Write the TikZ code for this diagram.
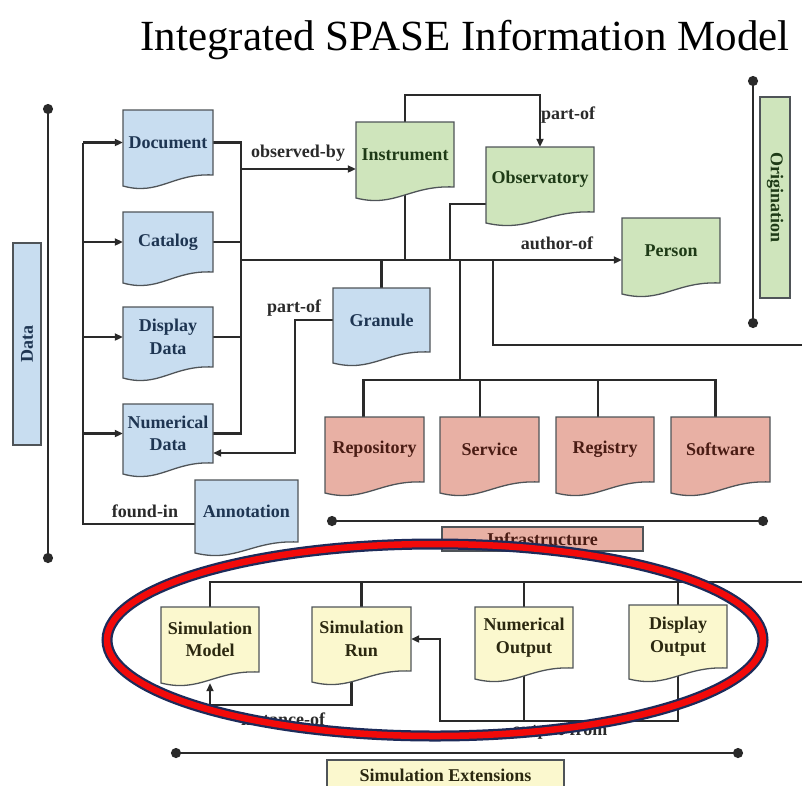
\documentclass[tikz,border=0pt]{standalone}
\usepackage{fontspec}
\setmainfont{Liberation Serif}
\usetikzlibrary{arrows.meta,positioning}

\definecolor{bluefill}{HTML}{C8DDF0}
\definecolor{bluetxt}{HTML}{1E3552}
\definecolor{greenfill}{HTML}{CFE5BC}
\definecolor{greentxt}{HTML}{1E3A16}
\definecolor{redfill}{HTML}{E8B0A4}
\definecolor{redtxt}{HTML}{4A1C14}
\definecolor{yellowfill}{HTML}{FBF8CE}
\definecolor{yellowtxt}{HTML}{2B2810}
\definecolor{boxgray}{HTML}{4F5458}
\definecolor{linegray}{HTML}{2A2A2A}
\definecolor{rimnavy}{HTML}{1C2B5A}
\definecolor{rimred}{HTML}{F20A0A}

\pgfdeclarelayer{bg}
\pgfsetlayers{bg,main}

\newcommand{\boxfont}{\fontsize{18pt}{22.5pt}\selectfont\bfseries}

\tikzset{
  link/.style={draw=linegray, line width=2.3pt},
  arrow/.style={link, -{Triangle[length=8pt, width=7pt]}},
  dotline/.style={link, {Circle[length=10pt]}-{Circle[length=10pt]}},
  boxtext/.style={font=\boxfont, align=center, inner sep=0pt},
  tag/.style={font=\boxfont, text=linegray},
  bar/.style={draw=boxgray, line width=1.3pt, font=\boxfont, inner sep=0pt},
  title/.style={font=\fontsize{43pt}{46pt}\selectfont},
  blue doc/.style={draw=boxgray, fill=bluefill, line width=1.3pt},
  blue txt/.style={text=bluetxt},
  green doc/.style={draw=boxgray, fill=greenfill, line width=1.3pt},
  green txt/.style={text=greentxt},
  red doc/.style={draw=boxgray, fill=redfill, line width=1.3pt},
  red txt/.style={text=redtxt},
  yellow doc/.style={draw=boxgray, fill=yellowfill, line width=1.3pt},
  yellow txt/.style={text=yellowtxt},
}

% document shape: name, colour, left, top, width, height, text
\newcommand{\docbox}[7]{%
  \filldraw[#2 doc] (#3,#4) -- ({#3+#5},#4) -- ({#3+#5},{#4+#6})
    .. controls ({#3+0.55*#5},{#4+#6-2}) and ({#3+0.4*#5},{#4+#6+21}) .. (#3,{#4+#6+11}) -- cycle;
  \node[boxtext, #2 txt, minimum width=#5pt, minimum height=#6pt] (#1) at ({#3+#5/2},{#4+#6/2}) {#7};
}

\begin{document}
\begin{tikzpicture}[x=1pt, y=-1pt]
  \useasboundingbox (0,0) rectangle (802,785);

  % Title
  \node[title, anchor=base] (ttl) at (465,50) {Integrated SPASE Information Model};

  % Data
  \node[bar, fill=bluefill, text=bluetxt, minimum width=202pt, minimum height=28pt, rotate=90] (data) at (27,344) {Data};
  \coordinate (dtop) at (48,104);
  \coordinate (dbot) at (48,563);
  \draw[dotline] (dtop) -- (dbot);

  \docbox{doc}{blue}{123}{110}{90}{65}{Document}
  \docbox{cat}{blue}{123}{212}{90}{60}{Catalog}
  \docbox{disp}{blue}{123}{307}{90}{60}{Display\\Data}
  \docbox{num}{blue}{123}{404}{90}{59}{Numerical\\Data}
  \docbox{annot}{blue}{195}{480}{103}{62}{Annotation}
  \docbox{gran}{blue}{333}{288}{97}{64}{Granule}

  % Origination
  \docbox{instr}{green}{356}{122}{98}{65}{Instrument}
  \docbox{obsy}{green}{486}{147}{108}{65}{Observatory}
  \docbox{person}{green}{622}{218}{98}{65}{Person}
  \node[bar, fill=greenfill, text=greentxt, minimum width=201pt, minimum height=30pt, rotate=-90] (orig) at (775,197.5) {Origination};
  \coordinate (otop) at (753,76);
  \coordinate (obot) at (753,328);
  \draw[dotline] (otop) -- (obot);

  % Infrastructure
  \docbox{repo}{red}{325}{417}{99}{65}{Repository}
  \docbox{serv}{red}{440}{417}{99}{65}{Service}
  \docbox{regi}{red}{556}{417}{98}{65}{Registry}
  \docbox{soft}{red}{671}{417}{99}{65}{Software}
  \coordinate (iltop) at (327,521);
  \coordinate (ilbot) at (768,521);
  \draw[dotline] (iltop) -- (ilbot);
  \node[bar, fill=redfill, text=redtxt, minimum width=201pt, minimum height=24pt] (infra) at (542.5,539) {Infrastructure};

  % Simulation
  \docbox{smod}{yellow}{161}{607}{98}{65}{Simulation\\Model}
  \docbox{srun}{yellow}{312}{607}{99}{64}{Simulation\\Run}
  \docbox{nout}{yellow}{475}{607}{98}{61}{Numerical\\Output}
  \docbox{dout}{yellow}{629}{605}{98}{63}{Display\\Output}
  \coordinate (sltop) at (171,753);
  \coordinate (slbot) at (743,753);
  \draw[dotline] (sltop) -- (slbot);
  \node[bar, fill=yellowfill, text=yellowtxt, minimum width=237pt, minimum height=30pt] (simext) at (445.5,775) {Simulation Extensions};

  % Connectors
  \begin{pgfonlayer}{bg}
    \coordinate (lbus) at (83,0);
    \coordinate (rbus) at (241,0);
    \foreach \n in {doc,cat,disp,num}
      \draw[arrow] (\n.west -| lbus) -- (\n.west);
    \coordinate (annin) at ([yshift=-13pt]annot.west);
    \draw[link] (doc.west -| lbus) |- (annin);
    \draw[link] (doc.east) -| (rbus |- num.east) -- (num.east);
    \foreach \n in {cat,disp}
      \draw[link] (\n.east) -- (\n.east -| rbus);
    \coordinate (obsin) at ([yshift=-14.5pt]instr.west);
    \draw[arrow] (obsin -| rbus) -- (obsin);

    \coordinate (ml) at (241,260);
    \draw[arrow] (ml) -- (ml -| person.west);
    \draw[link] (instr.south) -- (instr.south |- ml);
    \draw[arrow] (instr.north) -- ++(0,-27) -| (obsy.north);
    \coordinate (obwest) at ([yshift=-24.5pt]obsy.west);
    \coordinate (j1) at (450,260);
    \draw[link] (obwest) -| (j1);
    \draw[link] (gran.north) -- (gran.north |- ml);
    \coordinate (pk) at (295,0);
    \coordinate (numin) at ([yshift=-19.5pt]num.east);
    \draw[arrow] (gran.west) -- (gran.west -| pk) |- (numin);

    \coordinate (ib) at (460,380);
    \draw[link] (ib |- ml) -- (ib);
    \coordinate (rtop) at ([xshift=-11pt]repo.north);
    \coordinate (stop) at ([xshift=-5pt]soft.north);
    \draw[link] (rtop) |- (ib) -| (stop);
    \foreach \n/\s in {serv/-9.5,regi/-7}
      \draw[link] ([xshift=\s pt]\n.north) -- ++(0,-37);
    \coordinate (j2) at (493,260);
    \coordinate (e1) at (802,345);
    \draw[link] (j2) |- (e1);

    \coordinate (sl) at (802,582);
    \draw[link] (smod.north) |- (sl);
    \foreach \n in {srun,nout,dout}
      \draw[link] (\n.north) -- (\n.north |- sl);
    \coordinate (smodin) at ([yshift=-11pt]smod.south);
    \draw[arrow] ([xshift=-10pt]srun.south) -- ++(0,34) -| (smodin);
    \coordinate (of) at (440,721);
    \draw[arrow] (dout.south) |- (of) |- (srun.east);
    \draw[link] (nout.south) -- (nout.south |- of);
  \end{pgfonlayer}

  % Labels
  \node[tag] (obsby) at (298,153) {observed-by};
  \node[tag] (partof) at (568,115) {part-of};
  \node[tag] (authof) at (557,243) {author-of};
  \node[tag] (granof) at (294,308) {part-of};
  \node[tag] (found) at (145,511) {found-in};
  \node[tag] (inst) at (283,719) {instance-of};
  \node[tag] (outfrom) at (560,731) {output-from};

  % Highlight ring
  \draw[draw=rimnavy, line width=11pt] (435,640) ellipse [x radius=328pt, y radius=96pt];
  \draw[draw=rimred, line width=6.5pt] (435,640) ellipse [x radius=328pt, y radius=96pt];
\end{tikzpicture}
\end{document}
